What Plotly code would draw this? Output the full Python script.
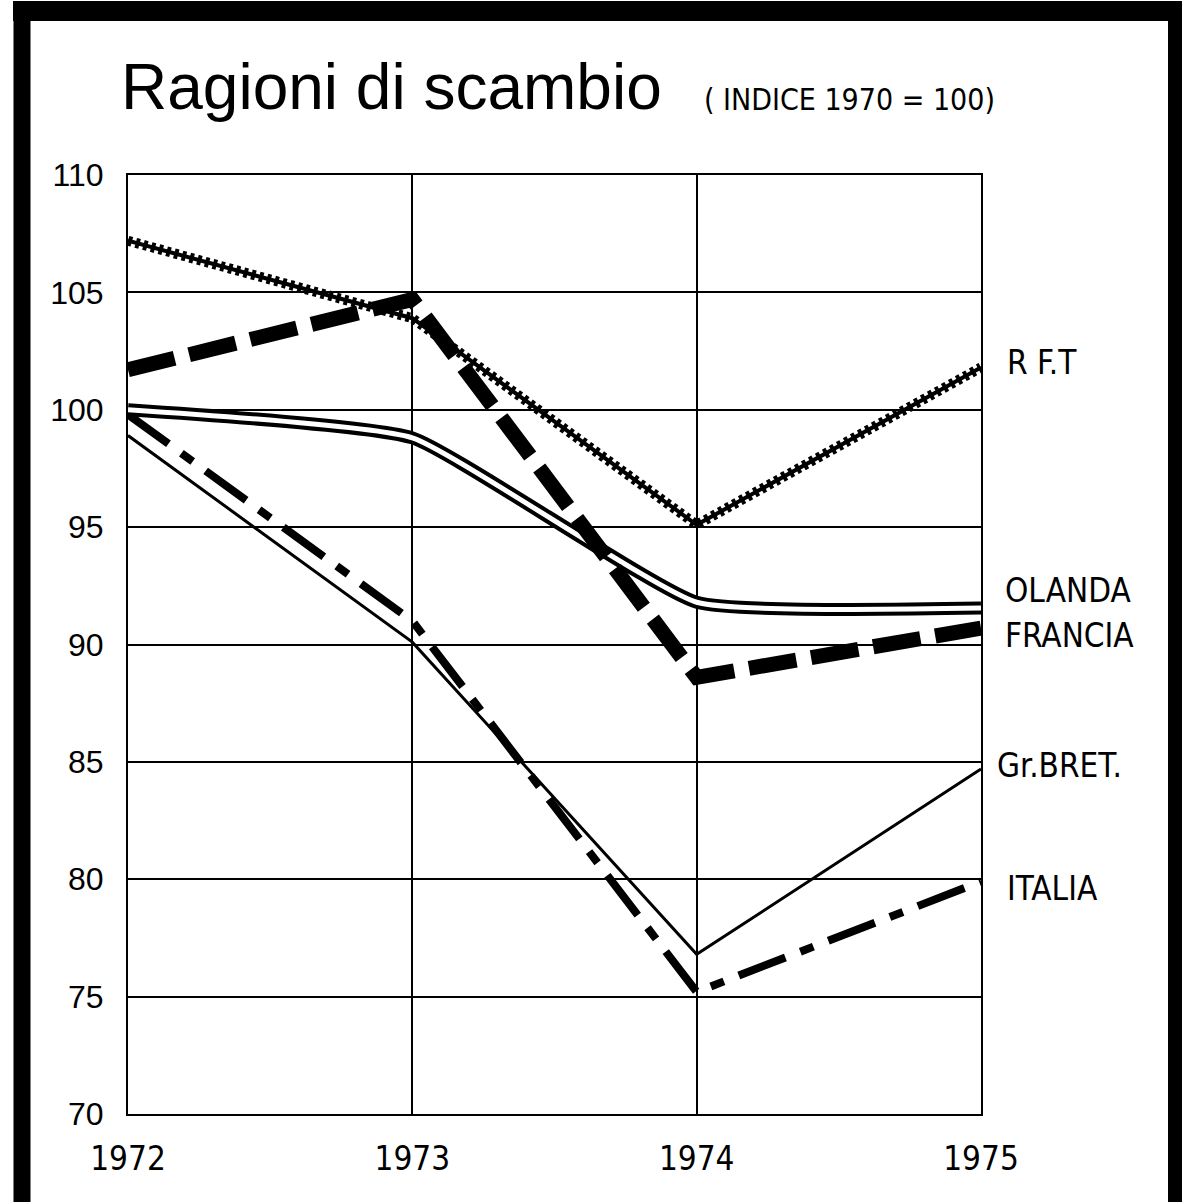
import plotly.graph_objects as go

# ---- data ----
years = [1972, 1973, 1974, 1975]
year_labels = ["1972", "1973", "1974", "1975"]
y_ticks = [70, 75, 80, 85, 90, 95, 100, 105, 110]

rft = [107.2, 103.9, 95.1, 101.8]
olanda = [100.0, 98.8, 91.8, 91.55]
francia = [101.7, 104.7, 88.6, 90.7]
gr_bret = [98.9, 90.1, 76.8, 84.7]
italia = [99.8, 91.0, 75.2, 79.9]

series_labels = ["R F.T", "OLANDA", "FRANCIA", "Gr.BRET.", "ITALIA"]

# ---- layout geometry ----
L, T, W, H = 128, 175, 853, 939
FIG = 1202


def px(x):
    return (x - L) / W


def py(y):
    return (T + H - y) / H


NARROW = "Liberation Sans Narrow, Arial Narrow, DejaVu Sans Condensed, sans-serif"
SANS = "Liberation Sans, Arial, sans-serif"

fig = go.Figure()

# Gr. Bretagna: thin solid
fig.add_trace(go.Scatter(x=years, y=gr_bret, mode="lines",
                         line=dict(color="black", width=3)))
# Italia: dash-dot
fig.add_trace(go.Scatter(x=years, y=italia, mode="lines",
                         line=dict(color="black", width=8, dash="50px,16px,14px,16px")))
# Olanda: double line (black outer, white inner)
fig.add_trace(go.Scatter(x=years, y=olanda, mode="lines",
                         line=dict(color="black", width=13, shape="spline", smoothing=0.4)))
fig.add_trace(go.Scatter(x=years, y=olanda, mode="lines",
                         line=dict(color="white", width=5, shape="spline", smoothing=0.4)))
# RFT: serrated line
fig.add_trace(go.Scatter(x=years, y=rft, mode="lines",
                         line=dict(color="black", width=4)))
fig.add_trace(go.Scatter(x=years, y=rft, mode="lines",
                         line=dict(color="black", width=10, dash="4px,4px")))
# Francia: thick dashed
fig.add_trace(go.Scatter(x=years, y=francia, mode="lines",
                         line=dict(color="black", width=15, dash="48px,15px")))

# right-side labels
label_y = [362, 590, 635, 765, 888]
label_x = [1005, 1003, 1003, 995, 1005]
annotations = []
for txt, lx, ly in zip(series_labels, label_x, label_y):
    annotations.append(dict(text=txt, x=px(lx), y=py(ly), xref="paper", yref="paper",
                            xanchor="left", yanchor="middle", showarrow=False,
                            font=dict(family=NARROW, size=33, color="black")))

# title
annotations.append(dict(text="Ragioni di scambio", x=px(119), y=py(87), xref="paper", yref="paper",
                        xanchor="left", yanchor="middle", showarrow=False,
                        font=dict(family=SANS, size=64, color="black")))
annotations.append(dict(text="( INDICE 1970 = 100)", x=px(702), y=py(100), xref="paper", yref="paper",
                        xanchor="left", yanchor="middle", showarrow=False,
                        font=dict(family=NARROW, size=30, color="black")))

# frame border (thick black)
shapes = [
    dict(type="line", xref="paper", yref="paper", x0=px(13), x1=px(1182), y0=py(11), y1=py(11),
         line=dict(color="black", width=20)),
    dict(type="line", xref="paper", yref="paper", x0=px(22), x1=px(22), y0=py(2), y1=py(1215),
         line=dict(color="black", width=17)),
    dict(type="line", xref="paper", yref="paper", x0=px(1175), x1=px(1175), y0=py(2), y1=py(1215),
         line=dict(color="black", width=14)),
]

fig.update_layout(
    width=FIG, height=FIG,
    margin=dict(l=L, r=FIG - L - W, t=T, b=FIG - T - H, pad=0),
    paper_bgcolor="white", plot_bgcolor="white",
    showlegend=False,
    annotations=annotations,
    shapes=shapes,
    xaxis=dict(range=[1972, 1975], tickvals=years, ticktext=year_labels,
               showgrid=True, gridcolor="black", gridwidth=2,
               showline=True, linecolor="black", linewidth=2, mirror=True,
               zeroline=False, ticks="", ticklabelstandoff=14, automargin=False,
               tickfont=dict(family=NARROW, size=33, color="black")),
    yaxis=dict(range=[70, 110], tickvals=y_ticks, ticktext=[str(v) for v in y_ticks],
               showgrid=True, gridcolor="black", gridwidth=2,
               showline=True, linecolor="black", linewidth=2, mirror=True,
               zeroline=False, ticks="", ticklabelstandoff=16, automargin=False,
               tickfont=dict(family=SANS, size=32, color="black")),
)

fig.write_html("out.html", config={"displayModeBar": False},
               post_script="document.body.style.margin='0px';document.body.style.overflow='hidden';")
